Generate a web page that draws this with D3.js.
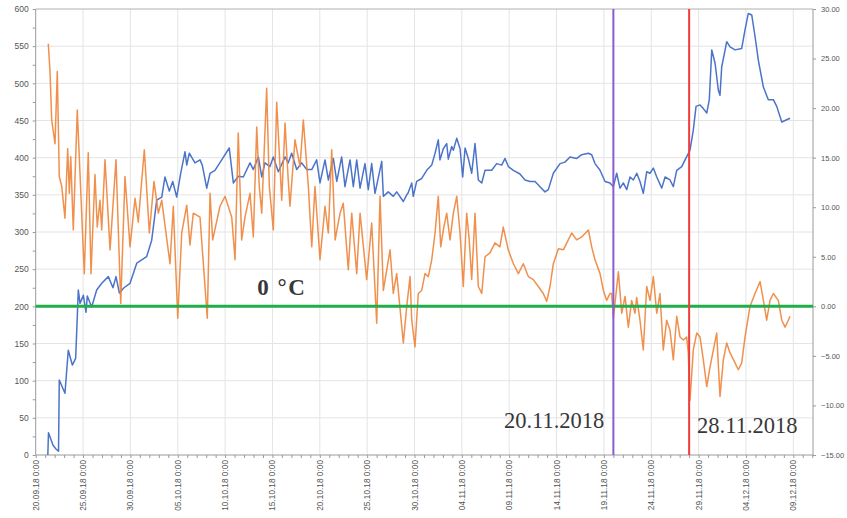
<!DOCTYPE html>
<html>
<head>
<meta charset="utf-8">
<script src="https://cdn.jsdelivr.net/npm/d3@7"></script>
<style>
  body { margin: 0; background: #fff; }
  .grid line { stroke: #e4e4e4; stroke-width: 1; }
  .axis path, .axis line { stroke: #9a9a9a; }
  .axis text { fill: #555; font-family: "Liberation Sans", Arial, sans-serif; }
  .note { font-family: "Liberation Serif", "DejaVu Serif", serif; fill: #383838; }
</style>
</head>
<body>
<svg id="chart"></svg>
<script>
// x values are days since 20.09.2018 0:00
const xTickLabels = [
  "20.09.18 0:00", "25.09.18 0:00", "30.09.18 0:00", "05.10.18 0:00", "10.10.18 0:00",
  "15.10.18 0:00", "20.10.18 0:00", "25.10.18 0:00", "30.10.18 0:00", "04.11.18 0:00",
  "09.11.18 0:00", "14.11.18 0:00", "19.11.18 0:00", "24.11.18 0:00", "29.11.18 0:00",
  "04.12.18 0:00", "09.12.18 0:00"
];
const leftTicks = [0, 50, 100, 150, 200, 250, 300, 350, 400, 450, 500, 550, 600];
const rightTicks = [-15, -10, -5, 0, 5, 10, 15, 20, 25, 30];

// blue series (left axis)
const blueDays = [
  1.28, 1.35, 1.83, 2.14, 2.41, 2.49, 3.09, 3.44, 3.87, 4.22, 4.50, 4.68, 5.03, 5.31, 5.45,
  5.91, 6.44, 6.97, 7.67, 8.16, 8.48, 8.83, 9.32, 9.96, 10.67, 11.72, 12.25, 12.78, 13.31,
  13.65, 14.11, 14.47, 14.89, 15.31, 15.77, 15.95, 16.22, 16.82, 17.35, 17.59, 18.06, 18.41,
  18.93, 19.64, 20.44, 20.87, 21.39, 21.92, 22.63, 22.98, 23.51, 23.87, 24.21, 24.74, 25.09,
  25.62, 26.33, 26.67, 27.03, 27.56, 28.09, 28.62, 29.15, 29.67, 30.02, 30.55, 30.90, 31.43,
  31.79, 32.31, 32.66, 33.19, 33.54, 33.90, 34.25, 34.77, 35.12, 35.48, 35.83, 36.54, 36.71,
  37.23, 37.76, 38.12, 38.82, 39.18, 39.31, 39.71, 39.87, 40.23, 40.76, 41.29, 41.82, 42.17,
  42.51, 42.69, 43.04, 43.40, 43.57, 43.93, 44.10, 44.46, 44.81, 45.09, 45.34, 45.68, 46.04,
  46.39, 46.74, 47.10, 47.45, 48.15, 48.68, 49.21, 49.56, 49.91, 50.44, 51.14, 51.67, 52.20,
  52.73, 53.25, 53.78, 54.13, 54.66, 55.37, 55.89, 56.42, 57.13, 57.66, 58.36, 58.71, 59.06,
  59.59, 60.12, 60.65, 61.00, 61.35, 61.70, 62.05, 62.41, 62.76, 63.11, 63.47, 63.81, 64.16,
  64.52, 64.87, 65.22, 65.58, 66.11, 66.46, 66.98, 67.33, 67.69, 68.22, 68.57, 69.09, 69.44,
  69.73, 70.15, 70.50, 70.86, 71.13, 71.39, 71.74, 72.08, 72.26, 72.44, 72.97, 73.32, 73.85,
  74.55, 74.90, 75.25, 75.61, 75.96, 76.31, 76.84, 77.36, 77.89, 78.25, 78.78, 79.13, 79.65
];
const blueValues = [
  0, 30, 13, 8, 5, 101, 83, 141, 121, 130, 222, 204, 215, 192, 214,
  199, 222, 231, 240, 225, 240, 218, 225, 231, 258, 267, 289, 343, 347,
  374, 355, 368, 347, 379, 408, 390, 406, 393, 397, 390, 359, 379,
  383, 397, 413, 366, 375, 374, 393, 384, 401, 374, 393, 388, 401,
  381, 401, 393, 406, 384, 393, 384, 384, 397, 366, 397, 370, 399,
  368, 401, 361, 397, 361, 397, 359, 392, 357, 392, 352, 395, 348,
  354, 348, 354, 341, 350, 352, 366, 348, 368, 372, 383, 390, 406,
  424, 397, 412, 419, 398, 415, 410, 426, 412, 374, 413, 399, 379,
  419, 370, 366, 383, 383, 392, 390, 399, 388, 383, 378, 370, 368,
  368, 361, 354, 357, 379, 392, 394, 401, 399, 404, 406, 404, 392,
  383, 368, 366, 361, 379, 359, 366, 357, 374, 370, 379, 368, 352,
  381, 379, 386, 374, 359, 374, 370, 361, 383, 388, 397, 410, 437,
  469, 471, 466, 460, 478, 545, 527, 491, 484, 522, 556, 549, 545,
  547, 572, 594, 592, 563, 531, 495, 478, 478, 469, 448, 450, 453
];

// orange series, temperature °C (right axis)
const tempDays = [
  1.33, 1.51, 1.69, 2.04, 2.28, 2.49, 2.75, 3.09, 3.38, 3.55, 3.70, 3.97, 4.39, 5.13, 5.55,
  5.84, 6.26, 6.50, 6.79, 6.97, 7.32, 7.85, 8.48, 8.98, 9.43, 9.96, 10.49, 10.83, 11.47,
  12.00, 12.49, 12.95, 13.31, 14.18, 14.53, 15.00, 15.42, 15.95, 16.29, 16.64, 17.35, 18.12,
  18.41, 18.69, 19.46, 19.99, 20.70, 21.05, 21.39, 21.75, 22.10, 22.63, 22.98, 23.34, 23.61,
  23.87, 24.39, 24.67, 25.09, 25.45, 25.98, 26.33, 26.67, 26.85, 27.38, 27.91, 28.26, 28.79,
  29.15, 29.49, 30.02, 30.55, 30.90, 31.26, 31.62, 32.14, 32.48, 33.01, 33.37, 33.90, 34.25,
  34.95, 35.48, 36.01, 36.36, 36.71, 37.42, 37.76, 38.12, 38.82, 39.18, 39.53, 39.71, 40.05,
  40.40, 40.76, 41.11, 41.46, 41.82, 42.17, 42.51, 42.77, 43.04, 43.40, 43.75, 44.10, 44.46,
  44.81, 45.15, 45.51, 45.78, 46.04, 46.39, 46.74, 47.10, 47.45, 47.97, 48.50, 49.02, 49.37,
  49.90, 50.44, 50.97, 51.49, 52.02, 52.55, 53.07, 53.60, 53.96, 54.31, 54.66, 55.19, 55.72,
  56.24, 56.60, 57.13, 57.66, 58.36, 58.71, 59.06, 59.59, 59.94, 60.29, 60.65, 60.82, 61.00,
  61.53, 61.88, 62.23, 62.58, 62.93, 63.28, 63.46, 63.81, 64.16, 64.52, 64.87, 65.22, 65.58,
  65.92, 66.27, 66.63, 66.98, 67.33, 67.69, 68.04, 68.39, 68.74, 68.91, 69.09, 69.44, 69.80,
  70.15, 70.50, 70.86, 71.21, 71.56, 71.91, 72.26, 72.61, 72.97, 73.32, 73.85, 74.19, 74.55,
  74.90, 75.43, 75.96, 76.49, 76.84, 77.19, 77.54, 77.89, 78.42, 78.78, 79.13, 79.48, 79.65
];
const tempValues = [
  26.5, 23.7, 18.8, 16.4, 23.7, 13.1, 12.1, 8.9, 15.9, 11.4, 15.1, 7.7, 19.8, 3.3, 15.5,
  3.3, 13.3, 8.0, 10.7, 7.7, 14.8, 5.7, 14.8, 0.3, 13.1, 6.0, 10.9, 8.5, 15.8,
  7.4, 12.6, 9.4, 10.7, 4.3, 10.1, -1.2, 7.4, 10.2, 6.2, 9.4, 9.0, -1.2,
  11.4, 6.7, 10.1, 11.1, 9.0, 4.7, 17.5, 6.7, 9.0, 11.4, 7.0, 18.1, 12.1,
  9.4, 22.0, 12.1, 7.7, 20.6, 10.7, 18.5, 12.7, 10.1, 16.8, 14.1, 18.8, 12.1,
  6.0, 12.1, 4.7, 10.1, 7.4, 15.8, 6.7, 9.4, 10.4, 3.7, 9.4, 3.3, 9.4,
  2.7, 8.4, -1.7, 11.1, 1.6, 5.7, 1.3, 3.3, -3.7, 0.0, 3.0, -1.4, -4.1,
  1.3, 1.6, 3.3, 3.0, 4.7, 7.4, 11.1, 6.0, 7.7, 9.4, 6.7, 9.4, 11.1,
  7.4, 2.0, 9.4, 6.7, 2.7, 9.4, 2.0, 1.3, 5.0, 5.4, 6.4, 6.0, 8.0,
  5.7, 4.3, 3.3, 4.3, 3.0, 2.7, 2.0, 1.3, 0.5, 2.0, 4.3, 5.8, 5.7,
  6.7, 7.4, 6.7, 7.0, 7.7, 6.0, 4.7, 3.3, 1.6, 0.6, 1.3, 1.3, -1.2,
  3.5, -0.7, 1.0, -2.1, 0.6, -0.7, 0.9, -1.4, -4.4, 2.0, 0.6, 3.0, -0.7,
  1.3, -4.4, -1.4, -2.4, -5.4, -1.0, -3.1, -3.4, -3.1, -4.7, -9.5, -4.4, -2.7,
  -3.1, -5.4, -8.1, -6.1, -4.4, -2.7, -9.1, -5.4, -3.7, -4.7, -5.7, -6.4, -5.7,
  -3.1, 0.0, 1.3, 2.5, 0.6, -1.4, 0.6, 1.3, 0.6, -1.4, -2.1, -1.4, -1.0
];

const markerDays = [61, 69];          // 20.11.2018, 28.11.2018
const markerColors = ["#8c5bd1", "#f23b3b"];
const markerLabels = ["20.11.2018", "28.11.2018"];

const totalW = 847, totalH = 518;
const mg = { top: 9, right: 34, bottom: 63, left: 35.7 };
const W = totalW - mg.left - mg.right;
const H = totalH - mg.top - mg.bottom;

const svg = d3.select("#chart").attr("width", totalW).attr("height", totalH);
const g = svg.append("g").attr("transform", `translate(${mg.left},${mg.top})`);

const x = d3.scaleLinear().domain([0, 82.08]).range([0, W]);
const yL = d3.scaleLinear().domain([0, 600]).range([H, 0]);
const yR = d3.scaleLinear().domain([-15, 30]).range([H, 0]);

const majorDays = xTickLabels.map((d, i) => i * 5);

// grid
const grid = g.append("g").attr("class", "grid");
grid.selectAll("line.v").data(majorDays.slice(1)).join("line")
  .attr("x1", d => x(d)).attr("x2", d => x(d)).attr("y1", 0).attr("y2", H);
grid.selectAll("line.h").data(leftTicks.slice(1, -1)).join("line")
  .attr("x1", 0).attr("x2", W).attr("y1", d => yL(d)).attr("y2", d => yL(d));

// frame top
g.append("line").attr("x1", 0).attr("x2", W).attr("y1", 0).attr("y2", 0)
  .attr("stroke", "#b0b0b0");

// left axis
const axL = g.append("g").attr("class", "axis")
  .call(d3.axisLeft(yL).tickValues(d3.range(0, 601, 25)).tickSize(3)
    .tickFormat(d => leftTicks.includes(d) ? d : ""));
axL.selectAll("text").attr("font-size", 8.5).attr("x", -7);
axL.select(".domain").attr("d", `M0,0V${H}`);

// right axis
const axR = g.append("g").attr("class", "axis").attr("transform", `translate(${W},0)`)
  .call(d3.axisRight(yR).tickValues(rightTicks).tickSize(3).tickFormat(d3.format(".2f")));
axR.selectAll("text").attr("font-size", 7.5).attr("x", 8);
axR.select(".domain").attr("d", `M0,0V${H}`);

// bottom axis
const axB = g.append("g").attr("class", "axis").attr("transform", `translate(0,${H})`)
  .call(d3.axisBottom(x).tickValues(d3.range(0, 83, 1)).tickSize(3).tickFormat(""));
axB.select(".domain").attr("d", `M0,0H${W}`);
axB.selectAll(".label").data(majorDays).join("text")
  .attr("class", "label")
  .attr("transform", d => `translate(${x(d) + 3},5) rotate(-90)`)
  .attr("text-anchor", "end")
  .attr("font-size", 8.3)
  .text((d, i) => xTickLabels[i]);

// series
const blueLine = d3.line().x(d => x(d[0])).y(d => yL(d[1]));
const tempLine = d3.line().x(d => x(d[0])).y(d => yR(d[1]));

g.append("path")
  .attr("d", blueLine(blueDays.map((d, i) => [d, blueValues[i]])))
  .attr("fill", "none").attr("stroke", "#4b74c9").attr("stroke-width", 1.5)
  .attr("stroke-linejoin", "round");

g.append("path")
  .attr("d", tempLine(tempDays.map((d, i) => [d, tempValues[i]])))
  .attr("fill", "none").attr("stroke", "#ee8439").attr("stroke-width", 1.5)
  .attr("stroke-opacity", 0.9).attr("stroke-linejoin", "round");

// 0 °C line
g.append("line").attr("x1", 0).attr("x2", W).attr("y1", yR(0)).attr("y2", yR(0))
  .attr("stroke", "#1fae48").attr("stroke-width", 3);
g.append("text").attr("class", "note")
  .attr("x", x(23.4)).attr("y", yR(0) - 11)
  .attr("font-size", 23).attr("font-weight", "bold").attr("letter-spacing", 1.5)
  .text("0 °C");

// date markers
markerDays.forEach((d, i) => {
  g.append("line").attr("x1", x(d)).attr("x2", x(d)).attr("y1", 0).attr("y2", H)
    .attr("stroke", markerColors[i]).attr("stroke-width", 2);
});
g.append("text").attr("class", "note")
  .attr("x", x(markerDays[0]) - 9).attr("y", 419).attr("text-anchor", "end")
  .attr("font-size", 22.5).text(markerLabels[0]);
g.append("text").attr("class", "note")
  .attr("x", x(markerDays[1]) + 8).attr("y", 424).attr("text-anchor", "start")
  .attr("font-size", 22.5).text(markerLabels[1]);
</script>
</body>
</html>
